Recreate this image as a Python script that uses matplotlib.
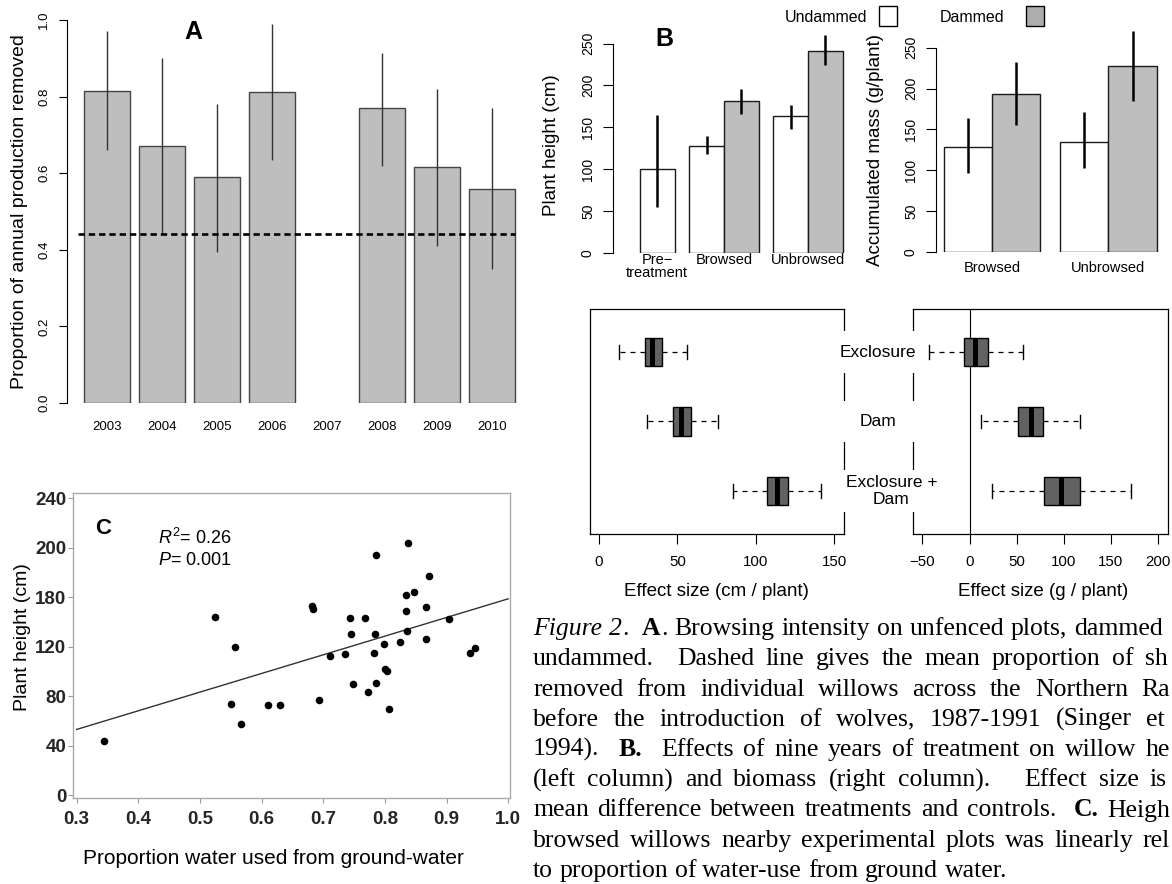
import re
import numpy as np
import matplotlib
matplotlib.use('Agg')
import matplotlib.pyplot as plt
from matplotlib.patches import Rectangle
from matplotlib.ticker import FormatStrFormatter

plt.rcParams['font.family'] = ['Liberation Sans', 'DejaVu Sans']
plt.rcParams['mathtext.fontset'] = 'custom'
plt.rcParams['mathtext.rm'] = 'Liberation Sans'
plt.rcParams['mathtext.it'] = 'Liberation Sans:italic'

# ---------------- data ----------------
# A: proportion of annual production removed (no data for 2007)
years = ['2003', '2004', '2005', '2006', '2007', '2008', '2009', '2010']
removed = [0.815, 0.67, 0.59, 0.813, np.nan, 0.77, 0.617, 0.56]
removed_lo = [0.66, 0.44, 0.395, 0.635, np.nan, 0.62, 0.41, 0.35]
removed_hi = [0.97, 0.90, 0.78, 0.99, np.nan, 0.915, 0.82, 0.77]
prewolf_mean = 0.44

# B: plant height (cm)
height_groups = ['Pre\u2212\ntreatment', 'Browsed', 'Unbrowsed']
height_undammed = [100, 128, 163]
height_undammed_lo = [55, 118, 148]
height_undammed_hi = [165, 140, 177]
height_dammed = [np.nan, 181, 241]
height_dammed_lo = [np.nan, 166, 224]
height_dammed_hi = [np.nan, 196, 260]

# B: accumulated mass (g/plant)
mass_groups = ['Browsed', 'Unbrowsed']
mass_undammed = [129, 135]
mass_undammed_lo = [97, 103]
mass_undammed_hi = [164, 171]
mass_dammed = [193, 227]
mass_dammed_lo = [156, 185]
mass_dammed_hi = [232, 271]

# B: effect sizes (whisker low, q1, median, q3, whisker high)
treatments = ['Exclosure', 'Dam', 'Exclosure +\nDam']
height_effect = [[12.8, 29.2, 33.8, 40.5, 56.2],
                 [30.4, 47.0, 52.6, 58.9, 76.0],
                 [85.4, 106.9, 113.4, 120.8, 141.8]]
mass_effect = [[-43, -6, 6, 19.3, 56.3],
               [12.1, 51.9, 65.2, 78.1, 117.5],
               [23.7, 79.3, 97.4, 116.7, 171.8]]

# C: plant height vs proportion of ground water
water = [0.345, 0.524, 0.557, 0.551, 0.567, 0.611, 0.630, 0.682, 0.684, 0.693,
         0.711, 0.735, 0.743, 0.745, 0.748, 0.767, 0.772, 0.784, 0.782, 0.786,
         0.786, 0.799, 0.801, 0.803, 0.806, 0.824, 0.834, 0.834, 0.836, 0.837,
         0.847, 0.866, 0.867, 0.872, 0.904, 0.938, 0.947]
plant_height = [44.0, 143.7, 120.0, 73.6, 57.7, 72.5, 72.5, 152.9, 150.5, 76.6,
                112.4, 113.8, 142.9, 130.0, 89.5, 142.9, 83.3, 130.0, 115.1, 194.4,
                90.6, 122.2, 102.2, 100.6, 69.6, 124.0, 161.8, 148.9, 132.9, 204.1,
                164.5, 151.8, 125.9, 177.4, 142.6, 115.1, 119.2]
fit_intercept = 7.8
fit_slope = 150.9
c_yticks = [0, 40, 80, 120, 160, 200, 240]
c_yticklabels = ['0', '40', '80', '120', '180', '200', '240']

# caption (visible part of each line, as in the page)
caption_lines = [
    '<i>Figure</i> <i>2</i>.  <b>A</b>. Browsing intensity on unfenced plots, dammed',
    'undammed.  Dashed line gives the mean proportion of sh',
    'removed from individual willows across the Northern Ra',
    'before the introduction of wolves, 1987-1991 (Singer et',
    '1994).  <b>B.</b>  Effects of nine years of treatment on willow he',
    '(left column) and biomass (right column).   Effect size is',
    'mean difference between treatments and controls.  <b>C.</b> Heigh',
    'browsed willows nearby experimental plots was linearly rel',
    'to proportion of water-use from ground water.',
]
caption_right = [1163, 1168, 1170, 1165, 1170, 1167, 1170, 1170, None]

# ---------------- layout helpers ----------------
W, H = 1172, 884
fig = plt.figure(figsize=(W / 100, H / 100), dpi=100)


def axes_px(x0, y0, x1, y1):
    return fig.add_axes([x0 / W, 1 - y1 / H, (x1 - x0) / W, (y1 - y0) / H])


def text_px(x, y, s, **kw):
    return fig.text(x / W, 1 - y / H, s, **kw)


def rect_px(x0, y0, w, h, **kw):
    fig.add_artist(Rectangle((x0 / W, 1 - (y0 + h) / H), w / W, h / H,
                             transform=fig.transFigure, **kw))


def r_yaxis(ax, ticks, fmt, length, pad, size):
    ax.set_yticks(ticks)
    ax.yaxis.set_major_formatter(FormatStrFormatter(fmt))
    ax.tick_params(axis='y', length=length, width=0.8, pad=pad,
                   labelsize=size, labelrotation=90)
    plt.setp(ax.get_yticklabels(), va='center')
    for s in ['top', 'right', 'bottom']:
        ax.spines[s].set_visible(False)
    ax.spines['left'].set_bounds(ticks[0], ticks[-1])
    ax.spines['left'].set_linewidth(0.8)
    ax.patch.set_alpha(0)


# ---------------- panel A ----------------
axA = axes_px(67, 20, 532, 403)
pos = 0.7 + 1.2 * np.arange(len(years))
rem = np.array(removed)
ok = ~np.isnan(rem)
axA.bar(pos[ok], rem[ok], width=1, color='#bebebe', edgecolor='#454545', lw=1)
axA.vlines(pos[ok], np.array(removed_lo)[ok], np.array(removed_hi)[ok],
           color='#333333', lw=1, clip_on=False)
axA.hlines(prewolf_mean, pos[0] - 0.64, pos[-1] + 0.5, colors='black', lw=1.9,
           linestyles=(0, (2.4, 1.5)), zorder=4)
axA.set_xlim(-0.176, 9.976)
axA.set_ylim(0, 1)
axA.set_xticks(pos, years)
axA.tick_params(axis='x', length=0, pad=13, labelsize=9.5)
r_yaxis(axA, np.arange(0, 1.01, 0.2), '%.1f', 6, 6, 9.5)
text_px(20, 212, 'Proportion of annual production removed', rotation=90,
        ha='center', va='center', fontsize=14)
text_px(193, 32, 'A', ha='center', va='center', fontsize=18, weight='bold')

# ---------------- panel B: bars ----------------


def group_bars(ax, undam, u_lo, u_hi, dam, d_lo, d_hi, groups, left0, gap):
    dam = np.array(dam, dtype=float)
    nb = np.where(np.isnan(dam), 1, 2)
    starts = left0 + np.concatenate([[0], np.cumsum(nb[:-1] + gap)])
    ux = starts + 0.5
    dx = starts + 1.5
    okd = ~np.isnan(dam)
    ax.bar(ux, undam, width=1, color='white', edgecolor='#1a1a1a', lw=1)
    ax.bar(dx[okd], dam[okd], width=1, color='#bebebe', edgecolor='#1a1a1a', lw=1)
    ax.vlines(ux, u_lo, u_hi, color='black', lw=1.8, clip_on=False, zorder=3)
    ax.vlines(dx[okd], np.array(d_lo)[okd], np.array(d_hi)[okd], color='black',
              lw=1.8, clip_on=False, zorder=3)
    ax.set_xticks(starts + nb / 2, groups)


axH = axes_px(613, 43.5, 855, 253)
group_bars(axH, height_undammed, height_undammed_lo, height_undammed_hi,
           height_dammed, height_dammed_lo, height_dammed_hi, height_groups, 0.78, 0.43)
axH.set_xlim(0, 7)
axH.set_ylim(0, 250)
axH.tick_params(axis='x', length=0, pad=0, labelsize=10.5)
for t in axH.get_xticklabels():
    t.set_linespacing(0.9)
r_yaxis(axH, np.arange(0, 251, 50), '%d', 7, 6, 10)
text_px(552, 145, 'Plant height (cm)', rotation=90, ha='center', va='center', fontsize=13.5)
text_px(664, 39, 'B', ha='center', va='center', fontsize=18, weight='bold')

axM = axes_px(936, 47.7, 1165, 252)
group_bars(axM, mass_undammed, mass_undammed_lo, mass_undammed_hi,
           mass_dammed, mass_dammed_lo, mass_dammed_hi, mass_groups, 0.16, 0.41)
axM.set_xlim(0, 4.74)
axM.set_ylim(0, 250)
axM.tick_params(axis='x', length=0, pad=6.5, labelsize=10.5)
r_yaxis(axM, np.arange(0, 251, 50), '%d', 7, 6, 10)
text_px(876, 150, 'Accumulated mass (g/plant)', rotation=90, ha='center', va='center',
        fontsize=13.5)

# legend
text_px(826, 17, 'Undammed', ha='center', va='center', fontsize=11.5)
rect_px(879, 6, 18, 20, facecolor='white', edgecolor='black', lw=1)
text_px(972, 17, 'Dammed', ha='center', va='center', fontsize=11.5)
rect_px(1026, 6, 18, 20, facecolor='#adadad', edgecolor='black', lw=1)

# ---------------- panel B: effect sizes ----------------
effect_pos = [3, 2, 1]


def effect_box(ax, rows, xlim, ticks):
    stats = [dict(whislo=r[0], q1=r[1], med=r[2], q3=r[3], whishi=r[4], fliers=[])
             for r in rows]
    ax.bxp(stats, positions=effect_pos, widths=0.41, orientation='horizontal',
           patch_artist=True, showfliers=False, capwidths=0.2, manage_ticks=False,
           boxprops=dict(facecolor='#626262', edgecolor='black', lw=1),
           medianprops=dict(color='black', lw=3.6, solid_capstyle='butt'),
           whiskerprops=dict(color='black', lw=0.9, linestyle=(0, (4, 4))),
           capprops=dict(color='black', lw=1))
    ax.set_xlim(*xlim)
    ax.set_ylim(0.38, 3.62)
    ax.set_yticks([])
    ax.set_xticks(ticks)
    ax.tick_params(axis='x', length=7.2, width=0.8, pad=8, labelsize=10.8)
    for s in ax.spines.values():
        s.set_linewidth(0.9)


axE1 = axes_px(589.5, 309, 843.5, 534)
effect_box(axE1, height_effect, (-6, 156), [0, 50, 100, 150])
axE2 = axes_px(913, 309, 1167.5, 534)
axE2.axvline(0, color='black', lw=0.8)
effect_box(axE2, mass_effect, (-60, 210), [-50, 0, 50, 100, 150, 200])
text_px(716.7, 592, 'Effect size (cm / plant)', ha='center', va='center', fontsize=13.5)
text_px(1043, 592, 'Effect size (g / plant)', ha='center', va='center', fontsize=13.5)

axL = axes_px(836, 309, 920, 534)
axL.set_xlim(0, 1)
axL.set_ylim(0.38, 3.62)
axL.axis('off')
axL.set_zorder(5)
label_x = [0.5, 0.5, 0.66]
for p, lab, xo in zip(effect_pos, treatments, label_x):
    axL.axhspan(p - 0.3, p + 0.3, color='white', lw=0)
    axL.text(xo, p, lab, ha='center', va='center', fontsize=12.5)

# ---------------- panel C ----------------
axC = axes_px(72.7, 493, 510, 798)
axC.scatter(water, plant_height, s=30, color='black', linewidths=0, zorder=3)
fx = np.array([0.3, 1.0])
axC.plot(fx, fit_intercept + fit_slope * fx, color='#333333', lw=1)
axC.set_xlim(0.2935, 1.003)
axC.set_ylim(-2.4, 244.3)
axC.set_xticks(np.round(np.arange(0.3, 1.01, 0.1), 1))
axC.xaxis.set_major_formatter(FormatStrFormatter('%.1f'))
axC.set_yticks(c_yticks, c_yticklabels)
axC.tick_params(direction='out', length=3.6, width=0.8, color='#999999',
                labelsize=13.5, labelcolor='#262626')
axC.tick_params(axis='y', pad=1)
axC.tick_params(axis='x', pad=6)
for t in axC.get_xticklabels() + axC.get_yticklabels():
    t.set_fontweight('bold')
for s in axC.spines.values():
    s.set_color('#aaaaaa')
    s.set_linewidth(1)
text_px(23, 637, 'Plant height (cm)', rotation=90, ha='center', va='center', fontsize=14)
text_px(273, 858, 'Proportion water used from ground-water', ha='center', va='center',
        fontsize=15)
text_px(103, 528, 'C', ha='center', va='center', fontsize=16, weight='bold')
text_px(158, 544, r'$R^2$= 0.26', va='baseline', fontsize=13)
text_px(158, 565, r'$P$= 0.001', va='baseline', fontsize=13)

# ---------------- caption (justified) ----------------
renderer = fig.canvas.get_renderer()
cap_left = 533
for i, (line, right) in enumerate(zip(caption_lines, caption_right)):
    y = 635 + i * 30.25
    pieces = re.split(r'( +)', line)
    words = pieces[0::2]
    gaps = [len(s) for s in pieces[1::2]]
    placed = []
    for w in words:
        runs = []
        for m in re.finditer(r'<(i|b)>(.*?)</\1>|([^<]+)', w):
            s, st = (m.group(3), '') if m.group(3) else (m.group(2), m.group(1))
            t = text_px(0, y, s, family='Liberation Serif', fontsize=18.5, va='baseline',
                        style='italic' if st == 'i' else 'normal',
                        weight='bold' if st == 'b' else 'normal')
            runs.append((t, t.get_window_extent(renderer).width))
        placed.append(runs)
    total = sum(wd for runs in placed for _, wd in runs)
    unit = 6.4 if right is None else (right - cap_left - total) / sum(gaps)
    x = cap_left
    for k, runs in enumerate(placed):
        for t, wd in runs:
            t.set_x(x / W)
            x += wd
        if k < len(gaps):
            x += unit * gaps[k]

fig.savefig('out.png', dpi=100)
